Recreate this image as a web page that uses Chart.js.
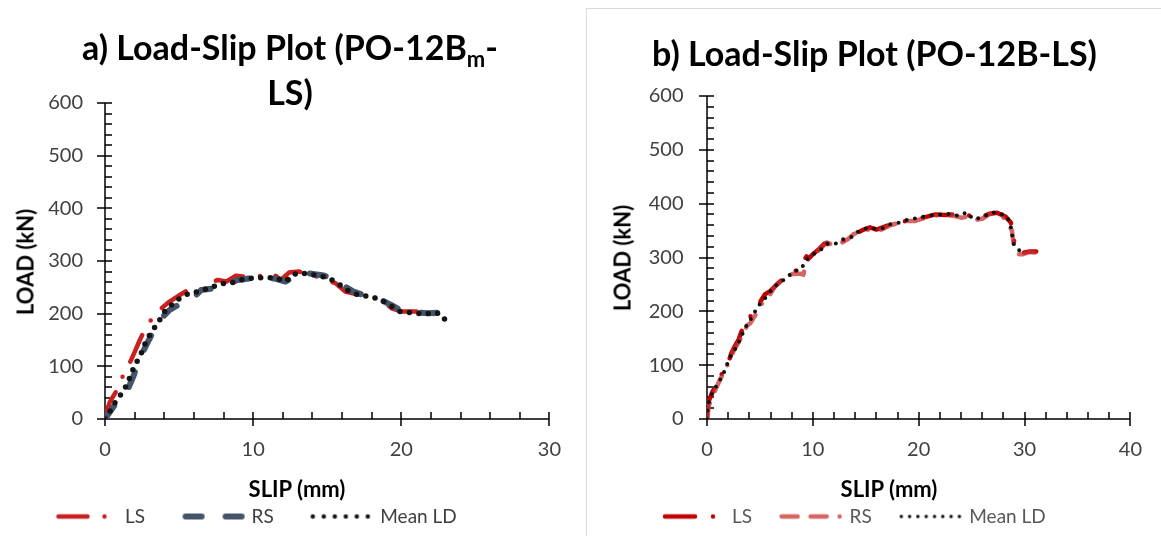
<!DOCTYPE html>
<html>
<head>
<meta charset="utf-8">
<script src="https://cdn.jsdelivr.net/npm/chart.js@4.4.1/dist/chart.umd.min.js"></script>
<style>
  body { margin: 0; background: #fff; width: 1161px; height: 536px; overflow: hidden; font-family: Lato, sans-serif; }
  .panel { position: absolute; }
  #panelA { left: 0; top: 0; width: 580px; height: 536px; }
  #panelB { left: 586px; top: 8px; width: 575px; height: 528px; border-left: 1px solid #d9d9d9; border-top: 1px solid #d9d9d9; }
  canvas { position: absolute; left: 0; top: 0; }
  .title { position: absolute; left: 0; width: 100%; text-align: center; font-weight: bold; font-size: 34px; color: #000; white-space: nowrap; }
  .title sub { font-size: 22px; vertical-align: -7px; line-height: 0; }
  .axTitle { position: absolute; font-weight: bold; font-size: 22px; color: #000; white-space: nowrap; transform: translate(-50%, -50%); }
  .axTitle.rot { transform: translate(-50%, -50%) rotate(-90deg); }
</style>
</head>
<body>
<div class="panel" id="panelA">
  <canvas id="chartA" width="580" height="536"></canvas>
  <div class="title" style="top:24px; line-height:45px;">a) Load-Slip Plot (PO-12B<sub>m</sub>-<br>LS)</div>
  <div class="axTitle rot" style="left:25px; top:262px;">LOAD (kN)</div>
  <div class="axTitle" style="left:297px; top:488px;">SLIP (mm)</div>
</div>
<div class="panel" id="panelB">
  <canvas id="chartB" width="574" height="527"></canvas>
  <div class="title" style="top:22px; line-height:44px;">b) Load-Slip Plot (PO-12B-LS)</div>
  <div class="axTitle rot" style="left:35px; top:249px;">LOAD (kN)</div>
  <div class="axTitle" style="left:302px; top:479px;">SLIP (mm)</div>
</div>
<script>
// ---- data (slip in mm, load in kN) ----
const seriesNames = ['LS', 'RS', 'Mean LD'];

// a) PO-12Bm-LS
const aSlipLS = [0, 0.1, 0.34, 0.74, 1.12, 1.57, 1.97, 2.35, 2.68, 3.13, 3.58, 4.36, 5.03, 5.6, 6.4, 7.05, 7.6, 8.2, 8.84, 9.6, 10.4, 11.3, 11.86, 12.42, 13.09, 13.8, 14.65, 15.55, 16.22, 17.1, 17.8, 18.6, 19.35, 20.02, 21.14, 22.03, 22.6, 23.0];
const aLoadLS = [0, 14, 33, 52, 77, 100, 125, 150, 169, 189, 205, 223, 235, 245, 243, 258, 264, 261, 272, 270, 271, 277, 264, 278, 280, 275, 267, 258, 242, 236, 233, 228, 210, 204, 204, 199, 201, 190];
const aSlipRS = [0, 0.67, 1.23, 1.57, 1.9, 2.35, 2.8, 3.36, 3.8, 4.36, 4.92, 5.37, 6.15, 6.49, 7.38, 7.94, 8.95, 9.8, 10.62, 11.41, 12.19, 12.75, 13.09, 13.9, 14.65, 15.44, 15.77, 16.78, 17.56, 18.2, 19.35, 20.13, 21.81, 22.48, 22.82, 23.04];
const aLoadRS = [0, 27, 46, 58, 80, 115, 141, 172, 191, 207, 216, 229, 235, 245, 248, 254, 264, 267, 267, 267, 261, 270, 278, 276, 273, 267, 258, 242, 234, 232, 216, 204, 201, 202, 198, 189];
const aSlipMean = [0, 0.45, 0.78, 1.23, 1.52, 2.0, 2.35, 2.8, 3.24, 3.69, 4.03, 4.47, 5.03, 5.7, 6.38, 6.94, 7.6, 8.17, 8.61, 9.17, 9.73, 10.29, 10.85, 11.52, 12.19, 12.64, 13.09, 13.76, 14.43, 14.99, 15.55, 16.33, 17.11, 17.79, 18.57, 19.24, 19.91, 20.69, 21.48, 22.37, 22.82, 22.97];
const aLoadMean = [0, 20, 36, 52, 68, 102, 118, 150, 169, 188, 204, 216, 229, 239, 242, 248, 254, 259, 259, 264, 267, 268, 268, 268, 261, 273, 278, 275, 272, 268, 261, 245, 235, 233, 227, 216, 204, 202, 199, 202, 196, 187];

// b) PO-12B-LS
const bSlipLS = [0, 0.1, 0.5, 1.0, 1.4, 1.9, 2.3, 2.6, 3.0, 3.3, 3.6, 3.9, 4.3, 4.7, 5.1, 5.5, 6.0, 6.7, 7.3, 7.9, 8.5, 9.0, 9.2, 9.4, 9.6, 10.0, 10.6, 11.1, 11.6, 12.3, 12.9, 13.6, 14.2, 14.8, 15.4, 16.0, 16.6, 17.4, 18.2, 19.0, 19.9, 20.8, 21.6, 22.5, 23.3, 24.0, 24.6, 25.2, 25.8, 26.6, 27.4, 28.2, 28.7, 28.9, 29.1, 29.4, 29.9, 30.5, 31.1];
const bLoadLS = [0, 30, 50, 68, 84, 98, 122, 134, 148, 165, 182, 190, 192, 204, 220, 232, 238, 252, 262, 272, 276, 280, 296, 302, 298, 306, 316, 326, 324, 322, 332, 340, 346, 352, 356, 352, 356, 362, 366, 368, 372, 376, 380, 379, 380, 376, 380, 372, 373, 381, 383, 376, 365, 345, 320, 310, 309, 311, 311];
const bSlipRS = [0, 0.2, 0.6, 1.2, 1.7, 2.1, 2.5, 2.9, 3.2, 3.5, 3.8, 4.1, 4.4, 4.8, 5.3, 5.8, 6.4, 7.0, 7.6, 8.2, 8.8, 9.1, 9.3, 9.6, 10.1, 10.8, 11.3, 11.9, 12.6, 13.3, 13.9, 14.6, 15.3, 15.9, 16.5, 17.3, 18.1, 18.9, 19.7, 20.6, 21.5, 22.4, 23.2, 24.0, 24.8, 25.4, 26.0, 26.8, 27.6, 28.3, 28.8, 29.0, 29.3, 29.8, 30.4, 31.0];
const bLoadRS = [0, 26, 46, 72, 90, 108, 126, 140, 150, 160, 174, 178, 188, 200, 218, 226, 246, 256, 266, 270, 270, 268, 285, 298, 306, 318, 328, 323, 326, 334, 344, 348, 352, 350, 352, 360, 364, 368, 368, 374, 378, 378, 378, 374, 376, 370, 372, 382, 380, 370, 350, 322, 306, 306, 310, 309];
const bSlipMean = [0, 0.03, 0.22, 0.58, 1.04, 1.5, 1.81, 2.12, 2.58, 2.98, 3.35, 3.66, 4.12, 4.58, 5.04, 5.65, 6.11, 6.73, 7.5, 8.11, 8.88, 9.34, 9.95, 10.72, 11.34, 12.1, 12.88, 13.64, 14.26, 15.02, 15.8, 16.56, 17.33, 18.25, 19.01, 19.78, 21.32, 22.24, 23.16, 23.78, 24.55, 25.16, 26.08, 26.85, 27.62, 28.39, 28.7, 28.85, 29.0, 29.62, 30.23];
const bLoadMean = [0, 17, 35, 51, 66, 82, 97, 113, 127, 142, 158, 171, 185, 201, 215, 228, 240, 252, 261, 274, 278, 295, 305, 314, 326, 325, 334, 338, 348, 354, 354, 354, 362, 365, 371, 373, 379, 380, 381, 377, 384, 371, 375, 384, 383, 375, 357, 339, 323, 311, 311];

function pts(xs, ys) { return xs.map((x, i) => ({ x: x, y: ys[i] })); }

// little legend swatches, drawn with the same dash patterns as the lines
function swatch(len, shift, style) {
  const w = 2 * (Math.ceil(len / 2) + 5 + Math.abs(shift));
  const c = document.createElement('canvas');
  c.width = w; c.height = 14;
  const g = c.getContext('2d');
  const x0 = w / 2 + shift - len / 2;
  g.strokeStyle = style.color;
  g.lineWidth = style.width;
  g.lineCap = 'round';
  g.setLineDash(style.dash);
  g.beginPath();
  g.moveTo(x0, 7);
  g.lineTo(x0 + len + 0.5, 7);
  g.stroke();
  return c;
}

// Excel-like axes: main lines, crossing major ticks, inside minor ticks
const excelAxes = {
  id: 'excelAxes',
  beforeDatasetsDraw(chart) {
    const { ctx, chartArea: a, scales: { x, y } } = chart;
    ctx.save();
    ctx.strokeStyle = '#000';
    ctx.lineWidth = 1.5;
    ctx.beginPath();
    ctx.moveTo(a.left, a.top);
    ctx.lineTo(a.left, a.bottom);
    ctx.lineTo(a.right, a.bottom);
    for (let v = 0; v <= y.max; v += 20) {
      const py = Math.round(y.getPixelForValue(v));
      ctx.moveTo(v % 100 === 0 ? a.left - 8 : a.left, py);
      ctx.lineTo(a.left + 7, py);
    }
    for (let v = 0; v <= x.max; v += 2) {
      const px = Math.round(x.getPixelForValue(v));
      ctx.moveTo(px, v % 10 === 0 ? a.bottom + 7 : a.bottom);
      ctx.lineTo(px, a.bottom - 7);
    }
    ctx.stroke();
    ctx.restore();
  }
};

function makeChart(id, o) {
  const tickFont = { family: 'Lato', size: 20 };
  const legendItems = o.styles.map((s, i) => ({
    text: seriesNames[i],
    pointStyle: swatch(s.legendLen, s.shift, { color: s.color, width: s.legendWidth || s.width, dash: s.legendDash || s.dash }),
    fillStyle: 'rgba(0,0,0,0)',
    strokeStyle: 'rgba(0,0,0,0)',
    lineWidth: 0,
    hidden: false,
    datasetIndex: i,
    fontColor: o.legendColor
  }));
  return new Chart(document.getElementById(id), {
    type: 'scatter',
    data: {
      datasets: o.series.map((d, i) => ({
        label: seriesNames[i],
        data: d,
        order: 3 - i,
        showLine: true,
        borderColor: o.styles[i].color,
        borderWidth: o.styles[i].width,
        borderDash: o.styles[i].dash,
        borderCapStyle: 'round',
        borderJoinStyle: 'round',
        pointRadius: 0,
        tension: 0
      }))
    },
    options: {
      responsive: false,
      animation: false,
      events: [],
      layout: { padding: { left: o.padLeft, right: o.padRight, top: o.padTop, bottom: 0 } },
      plugins: {
        title: { display: false },
        tooltip: { enabled: false },
        legend: {
          position: 'bottom',
          align: 'start',
          labels: {
            usePointStyle: true,
            pointStyleWidth: o.boxW,
            padding: 8,
            font: { family: 'Lato', size: 19 },
            color: o.legendColor,
            generateLabels: () => legendItems
          }
        }
      },
      scales: {
        x: {
          type: 'linear', min: 0, max: o.xMax,
          ticks: { stepSize: 10, padding: 19, font: tickFont, color: '#404040', maxRotation: 0 },
          grid: { display: false, drawTicks: false },
          border: { display: false },
          afterFit: s => { s.height = 80; }
        },
        y: {
          type: 'linear', min: 0, max: 600,
          ticks: { stepSize: 100, padding: o.yPad, font: tickFont, color: '#404040' },
          grid: { display: false, drawTicks: false },
          border: { display: false },
          afterFit: s => { s.width = o.yW; }
        }
      }
    },
    plugins: [excelAxes]
  });
}

makeChart('chartA', {
  series: [pts(aSlipLS, aLoadLS), pts(aSlipRS, aLoadRS), pts(aSlipMean, aLoadMean)],
  styles: [
    { color: '#CC1F1F', width: 4.5, dash: [29, 17, 0, 17], legendLen: 47, shift: 11 },
    { color: '#44546A', width: 6, dash: [16, 24], legendLen: 56, shift: 16 },
    { color: '#141414', width: 5.5, dash: [0, 9.5], legendWidth: 4.5, legendDash: [0, 11], legendLen: 55, shift: 14 }
  ],
  xMax: 30, padLeft: 18.5, padRight: 28, padTop: 103, yW: 86.5, yPad: 22, boxW: 89,
  legendColor: '#404040'
});

makeChart('chartB', {
  series: [pts(bSlipLS, bLoadLS), pts(bSlipRS, bLoadRS), pts(bSlipMean, bLoadMean)],
  styles: [
    { color: '#C00000', width: 4.5, dash: [30, 18, 0, 18], legendLen: 48, shift: 6.5 },
    { color: 'rgba(200,50,50,0.75)', width: 4.5, dash: [16, 13, 16, 13, 0, 13], legendLen: 58, shift: 10.5 },
    { color: '#111111', width: 4, dash: [0, 8.5], legendWidth: 3.5, legendDash: [0, 8.3], legendLen: 58, shift: 10.5 }
  ],
  xMax: 40, padLeft: 47.5, padRight: 20, padTop: 87, yW: 72.5, yPad: 23.5, boxW: 80,
  legendColor: '#595959'
});
</script>
</body>
</html>
